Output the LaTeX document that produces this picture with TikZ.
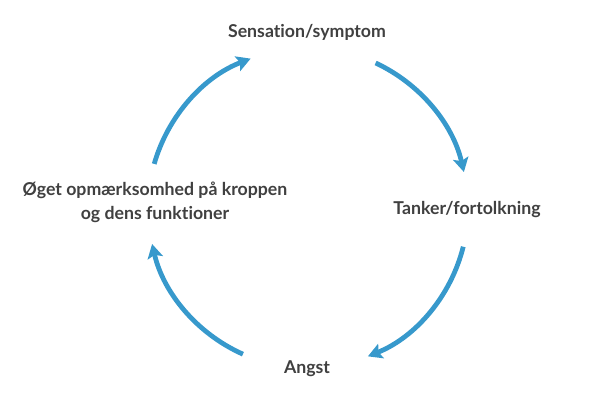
\documentclass[tikz,border=0pt]{standalone}
\usepackage{fontspec}
\setmainfont{Lato}[UprightFont=* Bold, Ligatures=NoCommon]
\usepackage{tikz}
\usetikzlibrary{arrows.meta, calc}
\definecolor{cycblue}{HTML}{3799CC}
\definecolor{cyctext}{HTML}{404040}

\begin{document}
\begin{tikzpicture}[
    stage/.style={align=center, text=cyctext, font=\fontsize{12.6}{17}\selectfont},
    cycarrow/.style={-{Stealth[length=10pt, width=11pt, inset=2pt]}, line width=3.4pt, draw=cycblue}
]
    \useasboundingbox (0,0) rectangle (15,10.5);
    \coordinate (c) at (7.7,5.3);
    \node[stage] (sens) at (7.675,9.7) {Sensation/symptom};
    \node[stage] (tank) at (11.675,5.27) {Tanker/fortolkning};
    \node[stage] (angst) at (7.675,1.28) {Angst};
    \node[stage] (oget) at (3.875,5.45) {Øget opmærksomhed på kroppen\\og dens funktioner};
    % points on the circle
    \coordinate (s1) at ($(c)+(65:4)$);
    \coordinate (s2) at ($(c)+(-14:4)$);
    \coordinate (s3) at ($(c)+(-114:4)$);
    \coordinate (s4) at ($(c)+(164:4)$);
    \draw[cycarrow] (s1) arc[start angle=65, end angle=13, radius=4];
    \draw[cycarrow] (s2) arc[start angle=-14, end angle=-68, radius=4];
    \draw[cycarrow] (s3) arc[start angle=-114, end angle=-167, radius=4];
    \draw[cycarrow] (s4) arc[start angle=164, end angle=111, radius=4];
\end{tikzpicture}
\end{document}
